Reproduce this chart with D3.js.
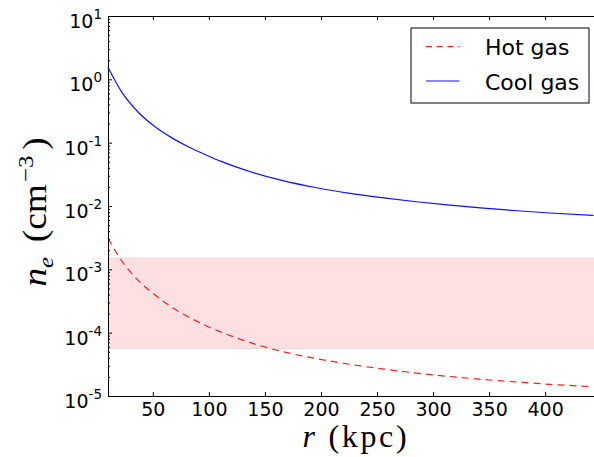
<!DOCTYPE html>
<html>
<head>
<meta charset="utf-8">
<script src="https://cdn.jsdelivr.net/npm/d3@7"></script>
<style>
  html, body { margin: 0; padding: 0; background: #fff; }
  svg { display: block; }
</style>
</head>
<body>
<svg id="chart" width="594" height="457"></svg>
<script>
// ---- data ----
const radius = [10, 22, 37, 52, 67, 82, 97, 111, 137, 166, 196, 226, 256, 285, 315, 345, 375, 404, 443];
const coolGas = [1.549, 0.638, 0.302, 0.178, 0.119, 0.0855, 0.0646, 0.0506, 0.0348, 0.0251, 0.0194, 0.0158, 0.0134, 0.01167, 0.0103, 0.00925, 0.00841, 0.00776, 0.00708];
const hotGas = [0.00309, 0.00138, 0.000668, 0.000394, 0.000251, 0.000176, 0.000130, 0.000102, 6.95e-5, 5.01e-5, 3.89e-5, 3.16e-5, 2.66e-5, 2.30e-5, 2.03e-5, 1.82e-5, 1.66e-5, 1.53e-5, 1.40e-5];
const bandRange = [5.6e-5, 1.52e-3];
const xTicks = [50, 100, 150, 200, 250, 300, 350, 400];
const yExponents = [-5, -4, -3, -2, -1, 0, 1];
const seriesNames = ["Hot gas", "Cool gas"];

(function () {
// ---- layout ----
const svg = d3.select("#chart");
const mLeft = 108, mRight = 601.2, mTop = 16, mBottom = 396;

const x = d3.scaleLinear().domain([10, 450]).range([mLeft, mRight]);
const y = d3.scaleLog().domain([1e-5, 10]).range([mBottom, mTop]);

const plot = svg.append("g");

// shaded band
plot.append("rect")
  .attr("x", x(10))
  .attr("width", x(450) - x(10))
  .attr("y", y(bandRange[1]))
  .attr("height", y(bandRange[0]) - y(bandRange[1]))
  .attr("fill", "#ff0000").attr("fill-opacity", 0.12)
  .attr("stroke", "#000").attr("stroke-opacity", 0.08).attr("stroke-width", 1);

const line = d3.line()
  .x((d, i) => x(radius[i]))
  .y(d => y(d))
  .curve(d3.curveMonotoneX);

plot.append("path").datum(hotGas)
  .attr("d", line).attr("fill", "none")
  .attr("stroke", "#ff2020").attr("stroke-width", 1.2)
  .attr("stroke-dasharray", "7,5");

plot.append("path").datum(coolGas)
  .attr("d", line).attr("fill", "none")
  .attr("stroke", "#1010ff").attr("stroke-width", 1.2);

// ---- axes ----
const tickFont = "'DejaVu Sans', sans-serif";

const xAxis = svg.append("g").attr("transform", `translate(0,${mBottom})`)
  .call(d3.axisBottom(x).tickValues(xTicks).tickSize(-4).tickSizeOuter(0).tickPadding(6.5));
xAxis.selectAll("text").attr("font-family", tickFont).attr("font-size", 19).attr("fill", "#000");

svg.append("g").attr("transform", `translate(0,${mTop})`)
  .call(d3.axisTop(x).tickValues(xTicks).tickSize(-4).tickSizeOuter(0).tickFormat(""));

const majorY = yExponents.map(e => Math.pow(10, e));
const minorY = [];
for (let e = -5; e < 1; e++) for (let m = 2; m <= 9; m++) minorY.push(m * Math.pow(10, e));

const yAxis = svg.append("g").attr("transform", `translate(${mLeft},0)`)
  .call(d3.axisLeft(y).tickValues(majorY).tickSize(-4).tickSizeOuter(0).tickFormat(""));
svg.append("g").attr("transform", `translate(${mLeft},0)`)
  .call(d3.axisLeft(y).tickValues(minorY).tickSize(-2).tickSizeOuter(0).tickFormat(""))
  .select(".domain").remove();

// y tick labels with superscripts
yAxis.selectAll(".tick").each(function (d) {
  const e = Math.round(Math.log10(d));
  const t = d3.select(this).append("text")
    .attr("x", -6).attr("y", 0)
    .attr("text-anchor", "end")
    .attr("font-family", tickFont).attr("fill", "#000");
  t.append("tspan").attr("font-size", 19).attr("dy", 11.5).text("10");
  t.append("tspan").attr("font-size", 13.5).attr("dy", -9).text(e < 0 ? "-" + (-e) : String(e));
});

svg.selectAll(".domain").attr("stroke", "#000").attr("stroke-width", 1);
svg.selectAll(".tick line").attr("stroke", "#000").attr("stroke-width", 1);

// ---- axis titles ----
const serif = "'Liberation Serif', 'DejaVu Serif', serif";
const xl = svg.append("text")
  .attr("x", (mLeft + mRight) / 2).attr("y", 447)
  .attr("text-anchor", "middle")
  .attr("font-family", serif).attr("font-size", 32).attr("fill", "#000")
  .attr("textLength", 104).attr("lengthAdjust", "spacing");
xl.append("tspan").attr("font-style", "italic").text("r");
xl.append("tspan").text(" (kpc)");

const yl = svg.append("text")
  .attr("transform", "translate(46,212) rotate(-90) scale(1.13,1)")
  .attr("text-anchor", "middle")
  .attr("font-family", serif).attr("font-size", 33).attr("fill", "#000");
yl.append("tspan").attr("font-style", "italic").text("n");
yl.append("tspan").attr("font-style", "italic").attr("font-size", 22).attr("dy", 7).text("e");
yl.append("tspan").attr("dy", -7).attr("dx", 13).text("(cm");
yl.append("tspan").attr("font-size", 22).attr("dy", -13).attr("dx", 2).text("−3");
yl.append("tspan").attr("dy", 13).attr("dx", 5).text(")");

// ---- legend ----
const lg = svg.append("g");
lg.append("rect").attr("x", 411).attr("y", 28).attr("width", 178).attr("height", 75)
  .attr("fill", "#fff").attr("stroke", "#000").attr("stroke-width", 1);
const legendStyles = [
  { color: "#ff2020", dash: "6,4.7", yy: 46.7 },
  { color: "#1010ff", dash: null, yy: 81 }
];
seriesNames.forEach((name, i) => {
  const s = legendStyles[i];
  lg.append("line").attr("x1", 426).attr("x2", 459.5).attr("y1", s.yy).attr("y2", s.yy)
    .attr("stroke", s.color).attr("stroke-width", 1.2)
    .attr("stroke-dasharray", s.dash);
  lg.append("text").attr("x", 485).attr("y", s.yy + 8.5)
    .attr("font-family", tickFont).attr("font-size", 22).attr("fill", "#000")
    .text(name);
});
})();
</script>
</body>
</html>
